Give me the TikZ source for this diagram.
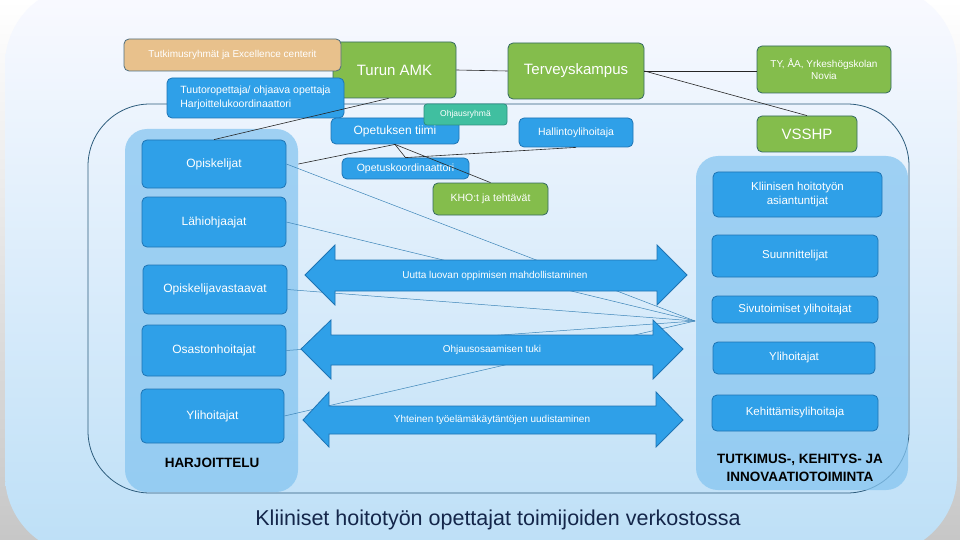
\documentclass[tikz,border=0pt]{standalone}
\usepackage{fontspec}
\setmainfont{Liberation Sans}
\begin{document}
\begin{tikzpicture}[x=1pt, y=-1pt,
    every node/.style={inner sep=1pt, text=white},
    boxbase/.style={draw, rounded corners=5pt, line width=0.8pt, align=center,
                    font=\fontsize{10}{12}\selectfont},
    bluebox/.style={boxbase, fill=netBlue, draw=netBlueEdge},
    greenbox/.style={boxbase, fill=netGreen, draw=netGreenEdge},
    tanbox/.style={boxbase, fill=netTan, draw=netTanEdge},
    tealbox/.style={boxbase, fill=netTeal, draw=netTealEdge, rounded corners=3pt},
    bigtext/.style={font=\fontsize{15}{18}\selectfont},
    sidetext/.style={font=\fontsize{12}{14}\selectfont},
    tkitext/.style={font=\fontsize{11.5}{14}\selectfont},
    panel/.style={fill=netPanel, opacity=0.75, rounded corners=22pt},
    fanline/.style={draw=netFan, line width=0.5pt},
    linkline/.style={draw=black!85, line width=0.6pt},
    bigarrow/.style={fill=netBlue, draw=netBlueEdge, line width=0.8pt},
    tierlabel/.style={text=black, font=\fontsize{13.5}{18}\selectfont\bfseries, align=center}]
    % Slide colours
    \definecolor{netBlue}{HTML}{2FA0E8}
    \definecolor{netBlueEdge}{HTML}{1E74B4}
    \definecolor{netGreen}{HTML}{84BD4C}
    \definecolor{netGreenEdge}{HTML}{356A62}
    \definecolor{netTan}{HTML}{E8C18C}
    \definecolor{netTanEdge}{HTML}{4E6E7E}
    \definecolor{netTeal}{HTML}{40BFA0}
    \definecolor{netTealEdge}{HTML}{2E8F80}
    \definecolor{netPanel}{HTML}{86C5F0}
    \definecolor{netFan}{HTML}{3D85B8}
    \definecolor{netFrame}{HTML}{2D5C7C}
    \definecolor{netTitle}{HTML}{14264A}

    % Coordinates are pixels of the 960x540 slide, y pointing down
    \useasboundingbox (0,0) rectangle (960,540);
    \clip (0,0) rectangle (960,540);
    \shade[top color=white, bottom color=black!22] (0,0) rectangle (960,540);
    \shade[top color=blue!2!white, bottom color=netPanel!55!white, rounded corners=80pt]
        (5,-15) rectangle (957,555);

    % Network frame and the two side panels
    \draw[netFrame, line width=0.8pt, rounded corners=62pt] (88,104) rectangle (909,493);
    \fill[panel] (125,129) rectangle (298,492);
    \fill[panel] (696,156) rectangle (908,490);

    % Organisations (top row)
    \node[greenbox, bigtext, minimum width=123pt, minimum height=56pt] (turun) at (394.5,70) {Turun AMK};
    \node[tanbox, minimum width=217pt, minimum height=32pt] (tutkr) at (232.5,55) {Tutkimusryhmät ja Excellence centerit};
    \node[bluebox, align=left, font=\fontsize{10.5}{14}\selectfont, minimum width=177pt, minimum height=40pt] (tuutor) at (255.5,98)
        {Tuutoropettaja/ ohjaava opettaja\\Harjoittelukoordinaattori};
    \node[greenbox, bigtext, minimum width=136pt, minimum height=56pt] (terv) at (576,71) {Terveyskampus};
    \node[greenbox, minimum width=134pt, minimum height=47pt] (ty) at (824,69.5) {TY, ÅA, Yrkeshögskolan\\Novia};
    \node[greenbox, bigtext, minimum width=100pt, minimum height=36pt] (vsshp) at (807,134) {VSSHP};
    \node[bluebox, font=\fontsize{10.5}{12}\selectfont, minimum width=114pt, minimum height=29pt] (hallinto) at (576,132.5) {Hallintoylihoitaja};
    \node[bluebox, font=\fontsize{12}{14}\selectfont, minimum width=128pt, minimum height=26pt] (optiimi) at (395,131) {Opetuksen tiimi};
    \node[tealbox, font=\fontsize{8.5}{10}\selectfont, minimum width=83pt, minimum height=21pt] (ohjaus) at (465.5,114.5) {Ohjausryhmä};
    \node[bluebox, font=\fontsize{10.5}{12}\selectfont, minimum width=127pt, minimum height=21pt] (opkoord) at (405.5,168.5) {Opetuskoordinaattori};
    \node[greenbox, font=\fontsize{10.5}{12}\selectfont, minimum width=115pt, minimum height=32pt] (kho) at (490.5,199) {KHO:t ja tehtävät};

    % HARJOITTELU column
    \node[bluebox, sidetext, minimum width=144pt, minimum height=48pt] (opisk) at (214,164) {Opiskelijat};
    \node[bluebox, sidetext, minimum width=144pt, minimum height=50pt] (lahi) at (214,222) {Lähiohjaajat};
    \node[bluebox, sidetext, minimum width=144pt, minimum height=49pt] (opvast) at (215,289.5) {Opiskelijavastaavat};
    \node[bluebox, sidetext, minimum width=144pt, minimum height=51pt] (osast) at (214,350.5) {Osastonhoitajat};
    \node[bluebox, sidetext, minimum width=143pt, minimum height=54pt] (ylihL) at (212.5,416) {Ylihoitajat};
    \node[tierlabel] (harj) at (212,463) {HARJOITTELU};

    % TKI column
    \node[bluebox, tkitext, minimum width=169pt, minimum height=45pt] (kliin) at (797.5,194.5) {Kliinisen hoitotyön\\asiantuntijat};
    \node[bluebox, tkitext, minimum width=166pt, minimum height=42pt] (suunn) at (795,256) {Suunnittelijat};
    \node[bluebox, tkitext, minimum width=166pt, minimum height=27pt] (sivut) at (795,309.5) {Sivutoimiset ylihoitajat};
    \node[bluebox, tkitext, minimum width=162pt, minimum height=32pt] (ylihR) at (794,358) {Ylihoitajat};
    \node[bluebox, tkitext, minimum width=166pt, minimum height=36pt] (kehit) at (795,413) {Kehittämisylihoitaja};
    \node[tierlabel] (tki) at (800,468) {TUTKIMUS-, KEHITYS- JA\\INNOVAATIOTOIMINTA};

    % Organisation links
    \draw[linkline] (turun.east) -- (terv.west);
    \draw[linkline] (terv.east) -- (terv.east -| ty.west);
    \draw[linkline] (terv.east) -- (vsshp.north);
    \draw[linkline] ([xshift=-6pt]turun.south) -- (opisk.north);
    \draw[linkline] (optiimi.south) -- ([xshift=12pt]opisk.east);
    \draw[linkline] (optiimi.south) -- (opkoord.north) -- (hallinto.south);
    \draw[linkline] (optiimi.south) -- (kho.north);

    % Fan of thin lines into the TKI panel (behind the arrows)
    \coordinate (fan) at (695,321);
    \foreach \src in {opisk, lahi, opvast, osast, ylihL}
        \draw[fanline] (\src.east) -- (fan);

    % Double arrows between the columns
    \filldraw[bigarrow] (305,275) -- (335,245) -- (335,260) -- (657,260) -- (657,245) -- (687,275)
        -- (657,305) -- (657,291) -- (335,291) -- (335,305) -- cycle;
    \filldraw[bigarrow] (301,349) -- (331,320) -- (331,335) -- (653,335) -- (653,320) -- (683,349)
        -- (653,379) -- (653,365) -- (331,365) -- (331,379) -- cycle;
    \filldraw[bigarrow] (303,420) -- (329,392) -- (329,406) -- (656,406) -- (656,392) -- (683,420)
        -- (656,447) -- (656,434) -- (329,434) -- (329,447) -- cycle;
    \node[font=\fontsize{10}{12}\selectfont] (uutta) at (495,276) {Uutta luovan oppimisen mahdollistaminen};
    \node[font=\fontsize{10}{12}\selectfont] (tuki) at (492,350) {Ohjausosaamisen tuki};
    \node[font=\fontsize{10}{12}\selectfont] (yhteinen) at (492,420) {Yhteinen työelämäkäytäntöjen uudistaminen};

    % Slide title
    \node[text=netTitle, font=\fontsize{21.5}{26}\selectfont] (title) at (498,520) {Kliiniset hoitotyön opettajat toimijoiden verkostossa};
\end{tikzpicture}
\end{document}
